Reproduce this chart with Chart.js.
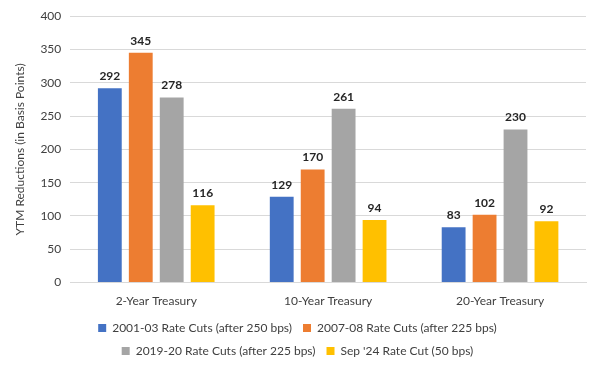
<!DOCTYPE html>
<html>
<head>
<meta charset="utf-8">
<script src="https://cdn.jsdelivr.net/npm/chart.js@4.4.1/dist/chart.umd.min.js"></script>
<style>
  html, body { margin: 0; padding: 0; background: #fff; }
  #wrap { width: 600px; height: 367px; }
</style>
</head>
<body>
<div id="wrap"><canvas id="myChart"></canvas></div>
<script>
// data
const categories = ['2-Year Treasury', '10-Year Treasury', '20-Year Treasury'];
const cuts2001 = [292, 129, 83];
const cuts2007 = [345, 170, 102];
const cuts2019 = [278, 261, 230];
const cutSep24 = [116, 94, 92];
const seriesNames = [
  '2001-03 Rate Cuts (after 250 bps)',
  '2007-08 Rate Cuts (after 225 bps)',
  '2019-20 Rate Cuts (after 225 bps)',
  "Sep '24 Rate Cut (50 bps)"
];
const yTicks = [0, 50, 100, 150, 200, 250, 300, 350, 400];

// simple value labels above each bar
const barLabels = {
  id: 'barLabels',
  afterDatasetsDraw(chart) {
    const ctx = chart.ctx;
    ctx.save();
    ctx.font = 'bold 12px Lato';
    ctx.fillStyle = '#262626';
    ctx.textAlign = 'center';
    ctx.textBaseline = 'bottom';
    chart.data.datasets.forEach(function(ds, i) {
      chart.getDatasetMeta(i).data.forEach(function(bar, j) {
        ctx.fillText(ds.data[j], bar.x, bar.y - 6);
      });
    });
    ctx.restore();
  }
};

const ctx = document.getElementById('myChart').getContext('2d');
const myChart = new Chart(ctx, {
  type: 'bar',
  data: {
    labels: categories,
    datasets: [
      { label: seriesNames[0], data: cuts2001, backgroundColor: '#4472C4' },
      { label: seriesNames[1], data: cuts2007, backgroundColor: '#ED7D31' },
      { label: seriesNames[2], data: cuts2019, backgroundColor: '#A5A5A5' },
      { label: seriesNames[3], data: cutSep24, backgroundColor: '#FFC000' }
    ]
  },
  options: {
    responsive: true,
    maintainAspectRatio: false,
    animation: false,
    datasets: {
      bar: { categoryPercentage: 0.72, barPercentage: 0.77 }
    },
    layout: { padding: { top: 6, left: 9, right: 14, bottom: 0 } },
    plugins: {
      legend: {
        position: 'bottom',
        labels: {
          boxWidth: 8,
          boxHeight: 8,
          padding: 11,
          color: '#404040',
          font: { family: 'Lato', size: 12 }
        }
      },
      tooltip: { enabled: false }
    },
    scales: {
      x: {
        grid: { display: false },
        border: { color: '#d9d9d9' },
        ticks: { color: '#404040', padding: 3, font: { family: 'Lato', size: 12 } }
      },
      y: {
        min: 0,
        max: 400,
        afterBuildTicks: function(axis) {
          axis.ticks = yTicks.map(function(v) { return { value: v }; });
        },
        grid: { color: '#d9d9d9', drawTicks: false },
        border: { display: false },
        ticks: { color: '#404040', padding: 9, font: { family: 'Lato', size: 12 } },
        title: {
          display: true,
          text: 'YTM Reductions (in Basis Points)',
          color: '#404040',
          font: { family: 'Lato', size: 12 }
        }
      }
    }
  },
  plugins: [barLabels]
});
</script>
</body>
</html>
